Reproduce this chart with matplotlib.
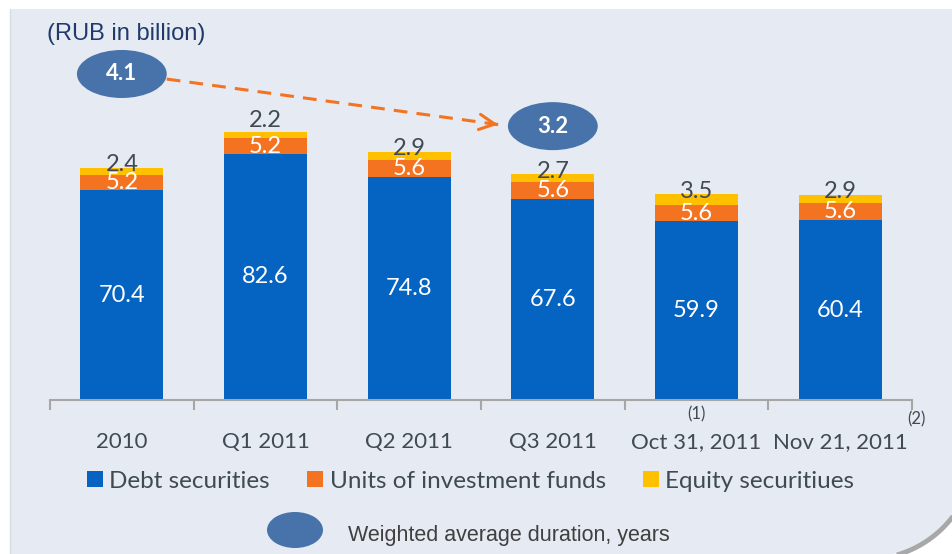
import numpy as np
import matplotlib
matplotlib.use("Agg")
import matplotlib.pyplot as plt
from matplotlib.patches import Ellipse, Polygon

# datos (RUB in billion)
categories = ["2010", "Q1 2011", "Q2 2011", "Q3 2011", "Oct 31, 2011", "Nov 21, 2011"]
debt = [70.4, 82.6, 74.8, 67.6, 59.9, 60.4]
funds = [5.2, 5.2, 5.6, 5.6, 5.6, 5.6]
equity = [2.4, 2.2, 2.9, 2.7, 3.5, 2.9]
footnotes = {"Oct 31, 2011": "(1)", "Nov 21, 2011": "(2)"}
duration_periods = ["2010", "Q3 2011"]
duration_years = [4.1, 3.2]
series_names = ["Debt securities", "Units of investment funds", "Equity securitiues"]

BLUE = "#0563C1"
ORANGE = "#F47321"
YELLOW = "#FFC000"
OVAL = "#4773AA"
PANEL = "#E6EAF2"
TXT = "#3F4A54"
W, H = 952, 554
FONT = "Lato"
# desplazamiento extra (pt) de la etiqueta de acciones, como en la lamina original
eq_lift = [2, 8, 2, 2, 2, 2]

fig = plt.figure(figsize=(W / 100, H / 100), dpi=100)
fig.patch.set_facecolor("white")

# fondo: panel con esquina inferior derecha redondeada (coords en pixeles)
bg = fig.add_axes([0, 0, 1, 1], zorder=0)
bg.set_xlim(0, W)
bg.set_ylim(H, 0)
bg.axis("off")
cx, cy, r = 866.6, 451.0, 106.3
t = np.linspace(0, np.pi / 2, 60)
arc = np.column_stack([cx + r * np.cos(t), cy + r * np.sin(t)])
verts = np.vstack([[[10, 9], [cx + r, 9]], arc, [[10, cy + r]]])
bg.add_patch(Polygon(verts, closed=True, facecolor=PANEL, edgecolor="none"))
bg.plot(cx + (r + 2) * np.cos(t), cy + (r + 2) * np.sin(t), color="#A8A8A8", lw=3.5,
        solid_capstyle="butt")
bg.plot([10, 10], [9, H], color="#D8DCE3", lw=1)
bg.text(47, 34, "(RUB in billion)", fontsize=17, color="#1F3A6B",
        family="Liberation Sans", va="center", ha="left")
bg.add_patch(Ellipse((295, 530), 56, 36, facecolor=OVAL, edgecolor="none"))
bg.text(348, 535, "Weighted average duration, years", fontsize=15.5, color="#404040",
        family="Liberation Sans", va="center", ha="left")

# grafico principal
ax = fig.add_axes([50 / W, (H - 400) / H, (912 - 50) / W, (400 - 20) / H], zorder=1)
ax.set_facecolor("none")
x = np.arange(len(categories))
bw = 0.58
debt_a, funds_a, eq_a = np.array(debt), np.array(funds), np.array(equity)
b1 = ax.bar(x, debt_a, bw, color=BLUE, label=series_names[0])
b2 = ax.bar(x, funds_a, bw, bottom=debt_a, color=ORANGE, label=series_names[1])
b3 = ax.bar(x, eq_a, bw, bottom=debt_a + funds_a, color=YELLOW, label=series_names[2])

ax.set_xlim(-0.5, len(categories) - 0.5)
ax.set_ylim(0, 380 / 2.98)

for i in x:
    ax.text(i, debt_a[i] / 2, f"{debt[i]:.1f}", ha="center", va="center",
            color="white", fontsize=17, family=FONT)
    ax.text(i, debt_a[i] + funds_a[i] / 2, f"{funds[i]:.1f}", ha="center", va="center",
            color="white", fontsize=17, family=FONT)
    ax.annotate(f"{equity[i]:.1f}", (i, debt_a[i] + funds_a[i] + eq_a[i]),
                xytext=(0, eq_lift[i]), textcoords="offset points", ha="center", va="center",
                color=TXT, fontsize=17, family=FONT)

for s in ["top", "left", "right"]:
    ax.spines[s].set_visible(False)
ax.spines["bottom"].set_color("#A6A6A6")
ax.spines["bottom"].set_linewidth(1.5)
ax.set_yticks([])
ax.set_xticks(np.arange(-0.5, len(categories)), labels=[""] * (len(categories) + 1))
ax.tick_params(axis="x", which="major", length=7, width=1.5, color="#A6A6A6")
ax.set_xticks(x, labels=categories, minor=True)
ax.tick_params(axis="x", which="minor", length=0, pad=23, labelsize=16, labelcolor=TXT)
for lab in ax.get_xticklabels(minor=True):
    lab.set_family(FONT)

for cat, mark in footnotes.items():
    i = categories.index(cat)
    xo = i if i < len(categories) - 1 else i + 0.53
    yo = -14 if i < len(categories) - 1 else -19
    ax.annotate(mark, (xo, 0), xytext=(0, yo), textcoords="offset pixels",
                ha="center", va="center", fontsize=12, color=TXT, family=FONT,
                annotation_clip=False)

# duracion media ponderada
oval_y = [109.4, 91.9]
ow, oh = 90 / 144, 48 / 2.98
for per, val, oy in zip(duration_periods, duration_years, oval_y):
    i = categories.index(per)
    ax.add_patch(Ellipse((i, oy), ow, oh, facecolor=OVAL, edgecolor="none", clip_on=False))
    ax.text(i, oy, f"{val:.1f}", ha="center", va="center", color="white",
            fontsize=16, fontweight="bold", family=FONT)

x0 = categories.index(duration_periods[0]) + ow / 2
x1 = categories.index(duration_periods[1]) - ow / 2 - 0.05
y0, y1 = 107.7, 92.3
ax.plot([x0, x1], [y0, y1], color=ORANGE, lw=2.2, dashes=(4.5, 3), clip_on=False)
ax.annotate("", xy=(x1, y1), xytext=(x1 - 0.05, y1 + 0.34),
            arrowprops=dict(arrowstyle="->,head_length=1.1,head_width=0.55",
                            color=ORANGE, lw=2.2), annotation_clip=False)

leg = fig.legend(handles=[b1, b2, b3], loc="center left", bbox_to_anchor=(87 / W, 1 - 481 / H),
                 ncol=3, frameon=False, fontsize=17.5, handlelength=0.66, handleheight=0.66,
                 handletextpad=0.25, columnspacing=1.55, borderaxespad=0, borderpad=0)
for t_ in leg.get_texts():
    t_.set_color(TXT)
    t_.set_family(FONT)

fig.savefig("out.png", dpi=100, facecolor=fig.get_facecolor())
